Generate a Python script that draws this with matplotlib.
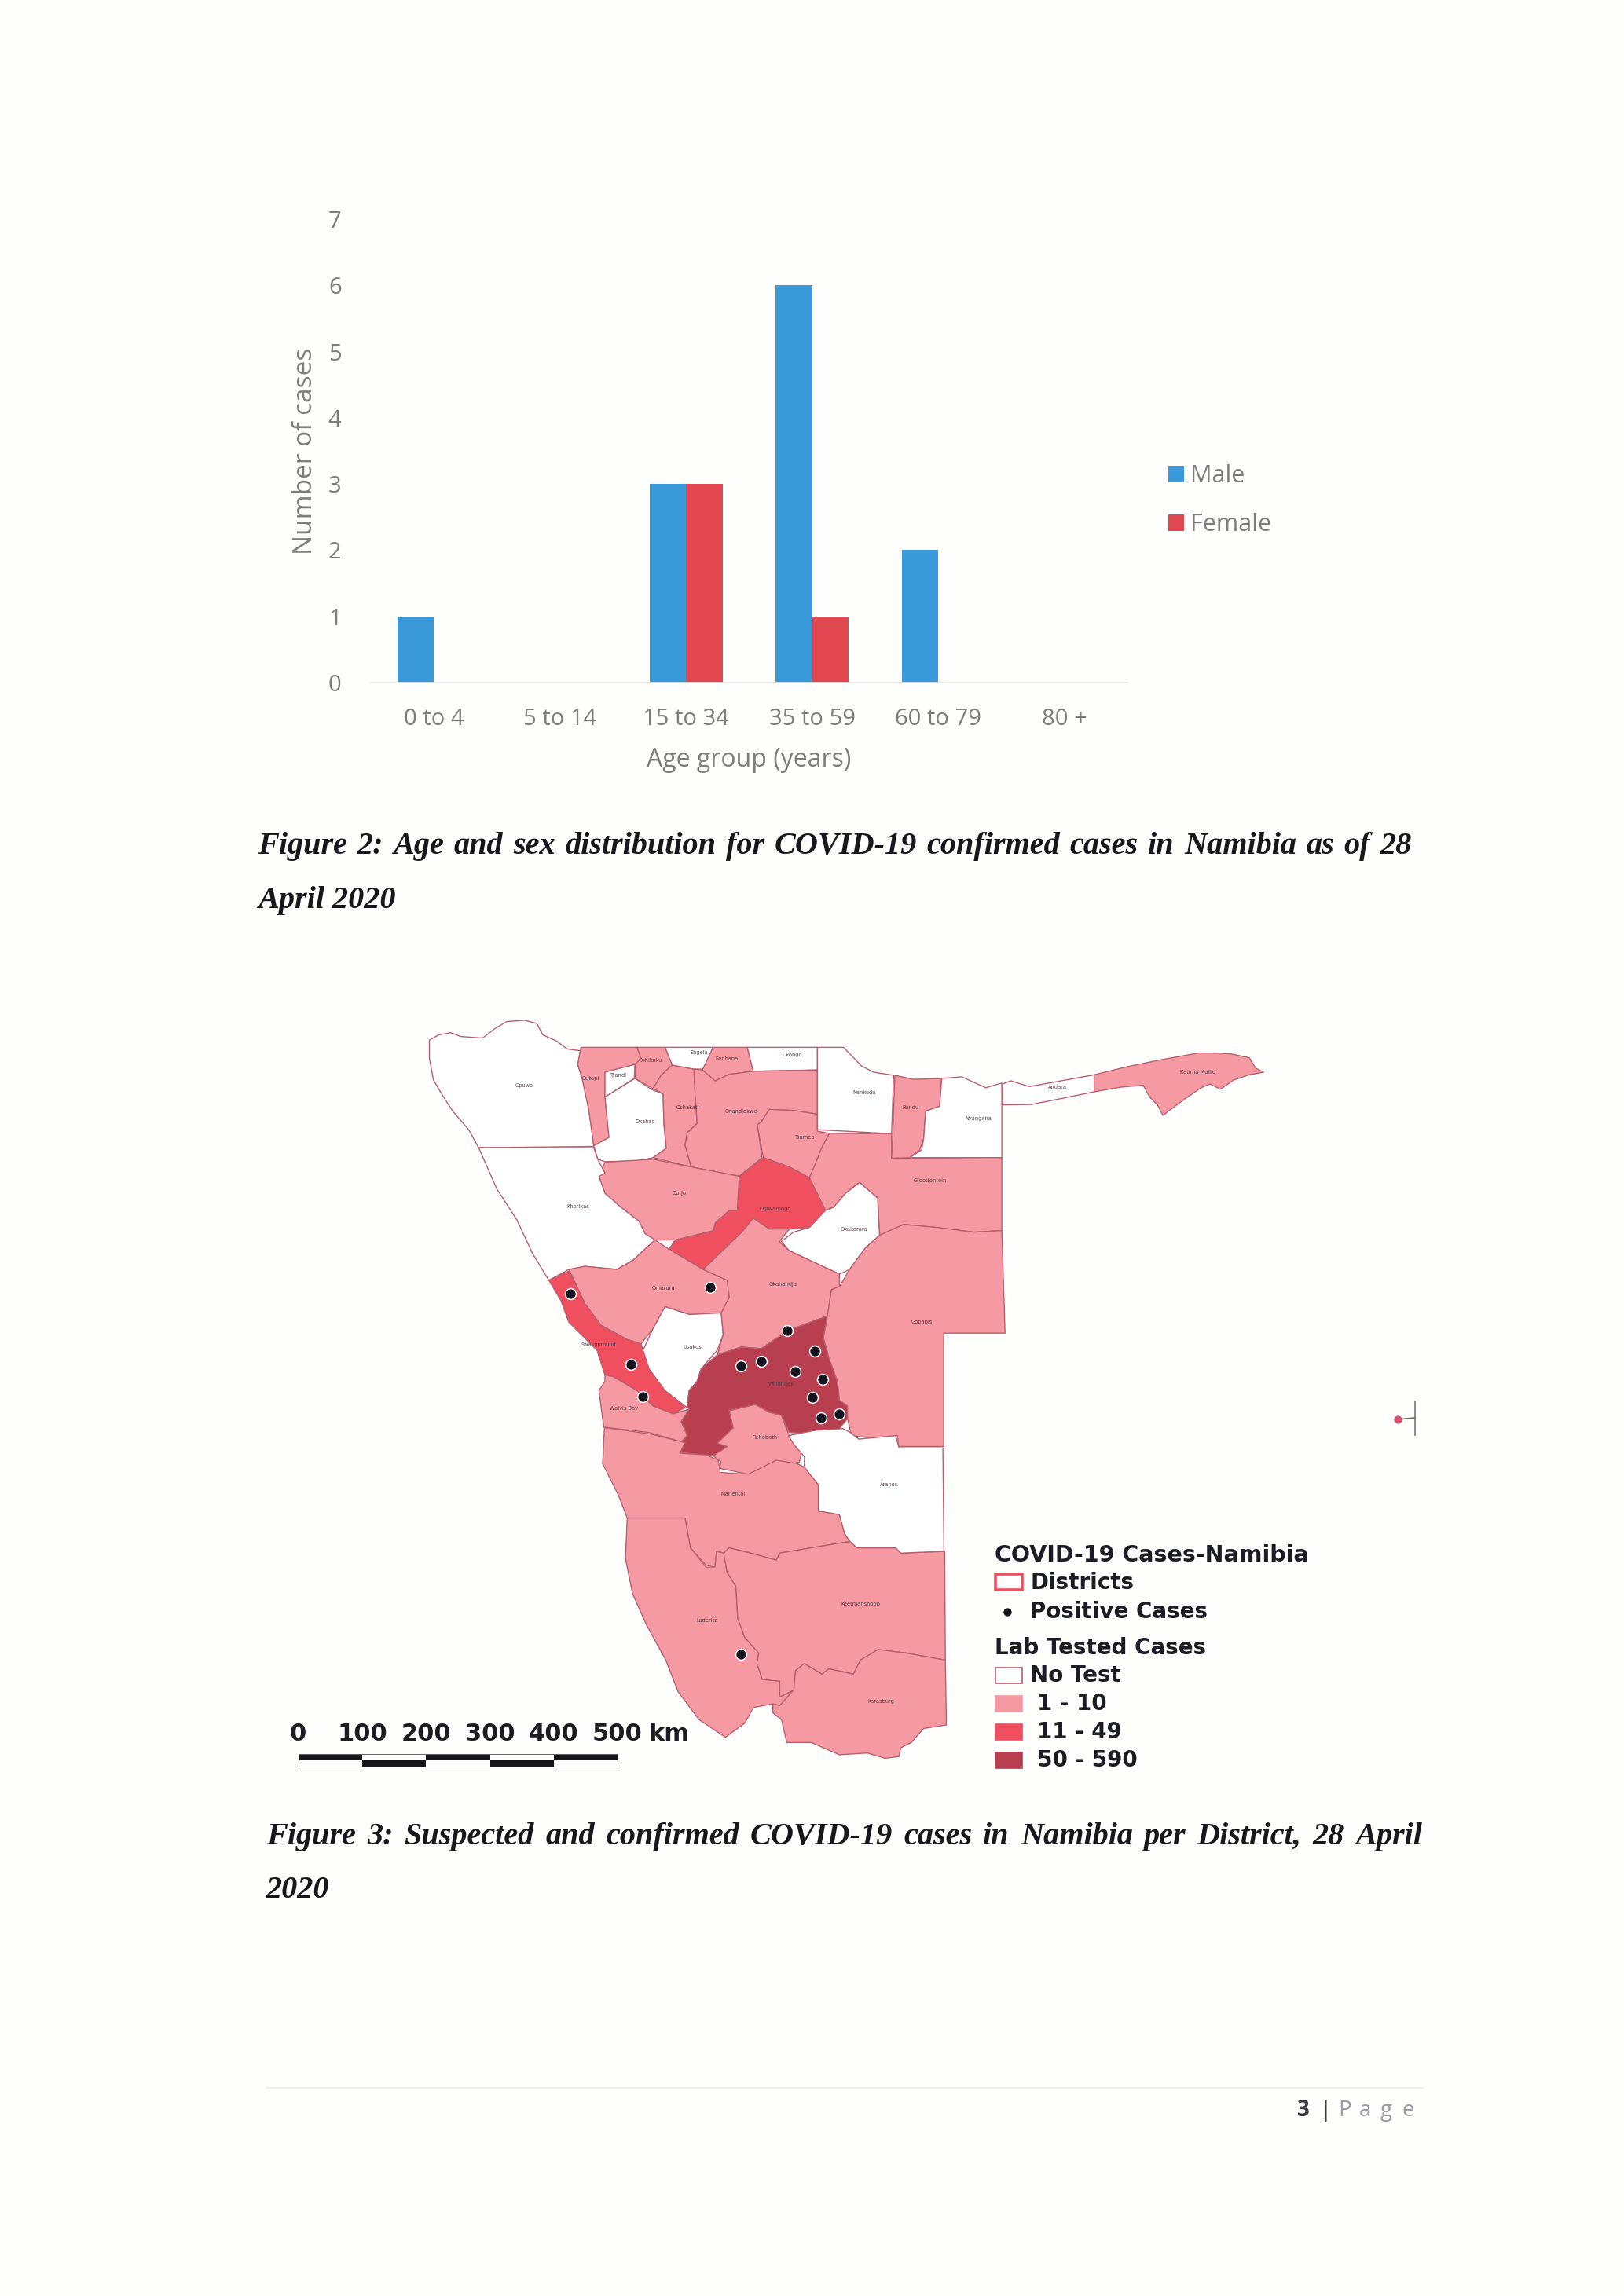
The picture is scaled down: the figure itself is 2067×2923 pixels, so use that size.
import matplotlib
matplotlib.use("Agg")
import matplotlib.pyplot as plt
from matplotlib.patches import Polygon, Rectangle

# ------------------------------------------------------------------ chart data
age_groups = ["0 to 4", "5 to 14", "15 to 34", "35 to 59", "60 to 79", "80 +"]
male_cases = [1, 0, 3, 6, 2, 0]
female_cases = [0, 0, 3, 1, 0, 0]

# ------------------------------------------------------------------ map data
NO_TEST, LOW, MID, HIGH = "none", "low", "mid", "high"

north = {
 "Opuwo": (NO_TEST, [(52,112),(75,95),(105,88),(130,100),(160,103),(185,105),(215,75),(245,52),(290,48),(320,58),(335,95),(370,115),(395,140),(430,146),(422,190),(432,230),(445,290),(450,340),(460,420),(462,454),(175,458),(150,400),(110,340),(85,290),(62,240),(52,170)]),
 "Outapi": (LOW, [(430,135),(570,135),(580,170),(565,190),(490,215),(490,295),(500,425),(462,452),(450,340),(432,230),(422,190)]),
 "Tsandi": (NO_TEST, [(490,215),(565,190),(563,235),(490,295)]),
 "Okahao": (NO_TEST, [(490,295),(565,235),(605,270),(635,285),(637,380),(643,460),(610,490),(575,500),(490,503),(472,495),(462,452),(500,425)]),
 "Oshikuku": (LOW, [(570,135),(640,135),(658,192),(630,225),(610,268),(565,235),(565,190),(580,170)]),
 "Oshakati": (LOW, [(610,268),(630,225),(658,192),(712,205),(715,290),(720,380),(695,410),(690,450),(705,520),(610,490),(643,460),(637,380),(635,285)]),
 "Engela": (NO_TEST, [(640,135),(760,135),(735,205),(712,205),(658,192)]),
 "Eenhana": (LOW, [(760,135),(845,135),(860,212),(800,222),(765,243),(733,208)]),
 "Okongo": (NO_TEST, [(845,135),(1020,135),(1020,208),(860,212)]),
 "Onandjokwe": (LOW, [(712,205),(733,208),(765,243),(800,222),(860,212),(1020,208),(1020,350),(960,338),(900,335),(880,375),(870,385),(882,490),(825,550),(705,520),(690,450),(695,410),(720,380),(715,290)]),
 "Tsumeb": (LOW, [(900,335),(960,338),(1020,350),(1020,405),(1050,412),(1030,460),(1015,510),(1000,555),(950,520),(885,490),(870,385),(880,375)]),
 "Nankudu": (NO_TEST, [(1020,135),(1085,135),(1130,195),(1160,215),(1210,225),(1205,413),(1020,400)]),
 "Rundu": (LOW, [(1213,225),(1260,238),(1330,235),(1325,325),(1290,340),(1285,430),(1275,465),(1250,490),(1205,492),(1208,413)]),
 "Nyangana": (NO_TEST, [(1330,235),(1380,230),(1440,265),(1480,250),(1480,490),(1250,490),(1280,465),(1285,430),(1290,340),(1325,325)]),
 "Grootfontein": (LOW, [(1050,412),(1205,413),(1205,492),(1480,490),(1480,725),(1410,730),(1320,715),(1235,705),(1175,740),(1170,620),(1125,570),(1090,605),(1060,650),(1040,660),(1000,555),(1015,510),(1030,460)]),
 "Otjiwarongo": (MID, [(885,490),(950,520),(1000,555),(1040,660),(1000,715),(950,720),(900,720),(860,685),(835,725),(735,850),(650,785),(665,755),(760,725),(765,700),(800,660),(820,660),(825,550)]),
 "Outjo": (LOW, [(490,505),(610,495),(705,520),(825,550),(820,660),(800,660),(765,700),(760,725),(665,755),(610,755),(590,735),(575,695),(530,650),(490,605),(475,550)]),
 "Khorixas": (NO_TEST, [(175,458),(462,458),(472,495),(490,540),(475,550),(490,605),(530,650),(575,695),(590,735),(615,755),(560,820),(520,850),(440,840),(400,850),(350,885),(310,800),(270,690),(220,590)]),
 "Omaruru": (LOW, [(400,850),(440,840),(520,850),(560,820),(615,755),(650,785),(735,850),(795,885),(800,940),(780,990),(700,995),(640,970),(610,1040),(580,1090),(545,1075),(480,1030),(440,960)]),
 "Swakopmund": (MID, [(350,885),(400,855),(440,960),(480,1030),(545,1075),(580,1090),(600,1170),(640,1240),(690,1295),(660,1315),(610,1290),(570,1240),(510,1195),(490,1190),(470,1110),(400,1020),(380,950)]),
 "Usakos": (NO_TEST, [(640,970),(700,995),(780,990),(785,1060),(770,1110),(730,1170),(720,1210),(700,1240),(695,1295),(640,1240),(600,1170),(585,1110),(610,1040)]),
 "Okakarara": (NO_TEST, [(930,760),(960,730),(1000,715),(1040,660),(1060,650),(1090,605),(1125,570),(1170,620),(1175,740),(1140,780),(1100,850),(1075,865),(1000,820),(950,790)]),
 "Okahandja": (LOW, [(735,850),(835,725),(860,685),(900,720),(950,720),(925,760),(950,790),(1000,820),(1075,865),(1075,905),(1055,915),(1045,1000),(960,1040),(920,1070),(880,1105),(830,1100),(770,1125),(785,1060),(780,990),(800,940),(795,885)]),
 "Windhoek": (HIGH, [(1045,1000),(1035,1070),(1050,1140),(1070,1210),(1075,1270),(1095,1290),(1095,1330),(1070,1370),(1020,1380),(950,1375),(930,1320),(900,1310),(865,1285),(800,1305),(810,1360),(770,1410),(795,1420),(760,1450),(680,1440),(680,1410),(695,1385),(680,1340),(700,1300),(695,1290),(700,1240),(720,1210),(730,1170),(770,1125),(830,1100),(880,1105),(920,1070),(960,1040)]),
 "Rehoboth": (LOW, [(800,1305),(865,1285),(900,1310),(930,1320),(950,1385),(980,1440),(975,1470),(900,1490),(850,1510),(775,1490),(780,1470),(760,1450),(795,1420),(770,1410),(810,1360)]),
 "Gobabis": (LOW, [(1075,905),(1100,850),(1140,780),(1175,740),(1235,705),(1320,715),(1410,730),(1480,725),(1488,1055),(1335,1055),(1335,1420),(1222,1420),(1220,1385),(1170,1395),(1105,1385),(1095,1330),(1095,1290),(1075,1270),(1070,1210),(1050,1140),(1035,1070),(1045,1000),(1055,915)]),
 "Walvis Bay": (LOW, [(490,1190),(510,1195),(570,1240),(610,1290),(660,1315),(700,1300),(680,1340),(695,1385),(680,1405),(600,1375),(487,1358),(475,1240),(490,1210)]),
}
south = {
 "Mariental": (LOW, [(200,487),(330,505),(430,530),(415,560),(490,565),(525,580),(530,615),(610,620),(690,580),(750,590),(770,600),(810,650),(810,725),(870,735),(885,790),(900,812),(820,825),(700,845),(690,865),(635,850),(600,840),(555,830),(540,845),(520,840),(515,885),(490,880),(445,830),(430,745),(265,745),(240,680),(195,590)]),
 "Luderitz": (LOW, [(265,745),(430,745),(445,830),(490,885),(515,885),(520,840),(540,845),(550,900),(575,940),(580,1030),(600,1085),(640,1130),(635,1160),(650,1205),(700,1210),(700,1255),(740,1235),(700,1280),(680,1275),(625,1285),(600,1330),(545,1370),(470,1320),(410,1240),(375,1150),(320,1050),(280,960),(260,860)]),
 "Keetmanshoop": (LOW, [(540,845),(555,830),(635,850),(690,865),(700,845),(820,825),(900,812),(920,830),(1030,830),(1045,845),(1170,840),(1172,1150),(1060,1130),(980,1120),(930,1150),(910,1190),(840,1175),(820,1190),(770,1160),(745,1180),(740,1235),(700,1255),(700,1210),(650,1205),(635,1160),(640,1130),(600,1085),(580,1030),(575,940),(550,900)]),
 "Karasburg": (LOW, [(740,1235),(745,1180),(770,1160),(820,1190),(840,1175),(910,1190),(930,1150),(980,1120),(1060,1130),(1172,1150),(1175,1335),(1110,1345),(1075,1385),(1045,1400),(1040,1425),(1000,1430),(950,1415),(870,1420),(790,1385),(720,1385),(705,1320),(680,1300),(680,1275),(700,1280)]),
 "Aranos": (NO_TEST, [(725,510),(800,495),(880,490),(900,500),(925,520),(1030,510),(1040,545),(1165,545),(1168,840),(1045,845),(1030,830),(920,830),(900,812),(885,790),(870,735),(810,725),(810,650),(770,600),(770,570),(740,535)]),
}
east = {
 "Andara": (NO_TEST, [(228,240),(260,228),(330,250),(430,232),(578,205),(578,270),(430,300),(340,318),(228,320)]),
 "Katima Mulilo": (LOW, [(578,205),(700,175),(820,150),(975,122),(1040,122),(1100,125),(1170,140),(1195,180),(1225,195),(1170,205),(1110,225),(1060,260),(1020,240),(985,255),(920,300),(840,360),(820,320),(790,290),(765,245),(680,252),(578,270)]),
}
north_labels = {"Opuwo":(288,257),"Outapi":(455,235),"Tsandi":(525,225),"Oshikuku":(603,177),"Okahao":(590,375),
 "Engela":(725,152),"Eenhana":(793,172),"Okongo":(957,160),"Nankudu":(1137,280),"Rundu":(1252,330),"Nyangana":(1422,365),
 "Oshakati":(697,330),"Onandjokwe":(830,342),"Tsumeb":(990,425),"Grootfontein":(1300,565),"Outjo":(675,605),
 "Khorixas":(422,647),"Otjiwarongo":(915,655),"Okakarara":(1112,720),"Omaruru":(635,910),"Okahandja":(935,897),
 "Usakos":(708,1100),"Swakopmund":(475,1092),"Walvis Bay":(538,1298),"Windhoek":(930,1218),"Rehoboth":(888,1390),"Gobabis":(1280,1018)}
south_labels = {"Aranos":(1012,650),"Mariental":(567,677),"Luderitz":(493,1038),"Keetmanshoop":(930,990),"Karasburg":(988,1268)}
east_labels = {"Andara":(437,252),"Katima Mulilo":(972,196)}
north_cases = [(404,928),(753,907),(945,1046),(1013,1113),(880,1145),(829,1162),(965,1178),(1032,1205),(1007,1263),(1029,1328),(1075,1316),(555,1156),(584,1260)]
south_cases = [(588,1133)]

scale_labels = ["0", "100", "200", "300", "400", "500"]
legend_classes = [("No Test", NO_TEST), ("1 - 10", LOW), ("11 - 49", MID), ("50 - 590", HIGH)]

caption2 = ["Figure 2: Age and sex distribution for COVID-19 confirmed cases in Namibia as of 28", "April 2020"]
caption3 = ["Figure 3: Suspected and confirmed COVID-19 cases in Namibia per District, 28 April", "2020"]

# ------------------------------------------------------------------ crop scales
def from_north(p): return (520 + p[0] / 1.96, 1280 + p[1] / 2.529)
def from_south(p): return (680 + p[0] / 2.24, 1600 + p[1] / 2.24)
def from_east(p):  return (1200 + p[0] / 3.0, 1300 + p[1] / 3.0)

W, H = 2067, 2923
fig = plt.figure(figsize=(W / 100, H / 100), dpi=100, facecolor="#fefefd")
page = fig.add_axes([0, 0, 1, 1])
page.set_xlim(0, W); page.set_ylim(H, 0); page.axis("off")

# ------------------------------------------------------------------ bar chart
BLUE, RED, GREY = "#3a9ad9", "#e0474f", "#7d7d7d"
FONT = "Open Sans"
ax = fig.add_axes([472 / W, 1 - 869 / H, (1435 - 472) / W, (869 - 279) / H])
ax.patch.set_alpha(0)
xs = list(range(len(age_groups)))
bw = 0.29
ax.bar([x - bw / 2 for x in xs], male_cases, bw, color=BLUE, label="Male")
ax.bar([x + bw / 2 for x in xs], female_cases, bw, color=RED, label="Female")
ax.set_xlim(-0.5, 5.5); ax.set_ylim(0, 7)
ax.set_xticks(xs, age_groups); ax.set_yticks(range(8))
ax.tick_params(length=0, labelsize=21, labelcolor=GREY)
ax.tick_params(axis="x", pad=23)
ax.tick_params(axis="y", pad=27)
for s in ("top", "right", "left"):
    ax.spines[s].set_visible(False)
ax.spines["bottom"].set_color("#e8e8e8"); ax.spines["bottom"].set_linewidth(1.2)
for t in ax.get_xticklabels() + ax.get_yticklabels():
    t.set_family(FONT)
ax.set_xlabel("Age group (years)", fontsize=23, color=GREY, family=FONT, labelpad=15)
ax.set_ylabel("Number of cases", fontsize=24, color=GREY, family=FONT)
ax.yaxis.set_label_coords((405 - 472) / (1435 - 472), 0.50)
leg = ax.legend(loc="center left", bbox_to_anchor=((1459 - 472) / (1435 - 472), (869 - 637) / (869 - 279)),
                frameon=False, prop={"family": FONT, "size": 22}, labelcolor=GREY,
                handlelength=0.68, handleheight=0.68, handletextpad=0.25, labelspacing=1.05)

# ------------------------------------------------------------------ map
FILL = {NO_TEST: "#ffffff", LOW: "#f59aa3", MID: "#ef4f5f", HIGH: "#b83f50"}
EDGE = "#b8606e"
for table, conv in ((north, from_north), (south, from_south), (east, from_east)):
    for name, (cls, pts) in table.items():
        page.add_patch(Polygon([conv(p) for p in pts], closed=True, facecolor=FILL[cls],
                               edgecolor=EDGE, linewidth=1.0, joinstyle="round", zorder=2))
for labels, conv in ((north_labels, from_north), (south_labels, from_south), (east_labels, from_east)):
    for name, p in labels.items():
        x, y = conv(p)
        page.text(x, y, name, fontsize=4.8, color="#5a3f48", ha="center", va="center",
                  family="DejaVu Sans", zorder=3)
dots = [from_north(p) for p in north_cases] + [from_south(p) for p in south_cases]
page.scatter([d[0] for d in dots], [d[1] for d in dots], s=100, c="#14141e",
             edgecolors="#f4eeee", linewidths=1.2, zorder=4)

# small stray mark at right of the map
page.plot([1779, 1801], [1807, 1805], color="#666666", lw=1.2, zorder=2)
page.plot([1801, 1801], [1784, 1827], color="#777777", lw=1.2, zorder=2)
page.scatter([1779], [1807], s=55, c="#d8506a", linewidths=0, zorder=3)

# scale bar
sx0, seg, sy0, sy1 = 380, 81.2, 2233, 2249
for i, lab in enumerate(scale_labels):
    page.text(sx0 + i * seg if i else sx0 - 1, 2207, lab, fontsize=22, fontweight="bold", color="#1c1c22",
              ha="center", va="center", family="DejaVu Sans")
page.text(851, 2207, "km", fontsize=22, fontweight="bold", color="#1c1c22", ha="center", va="center",
          family="DejaVu Sans")
for i in range(5):
    x = sx0 + i * seg
    ymid = (sy0 + sy1) / 2
    upper, lower = ("#15151a", "#ffffff") if i % 2 == 0 else ("#ffffff", "#15151a")
    page.add_patch(Rectangle((x, sy0), seg, ymid - sy0, facecolor=upper, edgecolor="none", zorder=3))
    page.add_patch(Rectangle((x, ymid), seg, sy1 - ymid, facecolor=lower, edgecolor="none", zorder=3))
page.add_patch(Rectangle((sx0, sy0), 5 * seg, sy1 - sy0, facecolor="none", edgecolor="#666666", lw=0.7, zorder=4))

# map legend
LEG = dict(fontsize=20, fontweight="bold", color="#1c1c24", va="center", family="DejaVu Sans")
page.text(1266, 1980, "COVID-19 Cases-Namibia", **{**LEG, "fontsize": 20.5})
page.add_patch(Rectangle((1267, 2004), 34, 20, facecolor="white", edgecolor="#e8505f", lw=2.6))
page.text(1311, 2015, "Districts", **LEG)
page.scatter([1282], [2052], s=55, c="#14141e", linewidths=0)
page.text(1311, 2052, "Positive Cases", **LEG)
page.text(1266, 2098, "Lab Tested Cases", **LEG)
for (lab, cls), yc, tx in zip(legend_classes, [2133, 2169, 2205, 2241], [1311, 1320, 1320, 1320]):
    page.add_patch(Rectangle((1267, yc - 10), 34, 20, facecolor=FILL[cls],
                             edgecolor=EDGE if cls == NO_TEST else FILL[cls], lw=1.2))
    page.text(tx, yc, lab, **LEG)

# ------------------------------------------------------------------ captions
CAP = dict(fontsize=29, fontweight="bold", fontstyle="italic", color="#17171c",
           family="Liberation Serif", va="baseline", ha="left")
renderer = fig.canvas.get_renderer()
def justified(line, x0, x1, y):
    words = line.split(" ")
    inv = page.transData.inverted()
    items = [page.text(0, y, w, **CAP) for w in words]
    widths = []
    for t in items:
        bb = t.get_window_extent(renderer)
        widths.append(inv.transform((bb.x1, 0))[0] - inv.transform((bb.x0, 0))[0])
    gap = (x1 - x0 - sum(widths)) / (len(words) - 1)
    x = x0
    for t, w in zip(items, widths):
        t.set_x(x)
        x += w + gap
justified(caption2[0], 328, 1797, 1087)
page.text(328, 1156, caption2[1], **CAP)
justified(caption3[0], 339, 1810, 2348)
page.text(339, 2416, caption3[1], **CAP)

# ------------------------------------------------------------------ footer
page.plot([339, 1812], [2658, 2658], color="#f0f0ee", lw=1.5)
page.text(1651, 2687, "3", fontsize=20, fontweight="bold", color="#3c3c40", va="center", family=FONT)
page.text(1679, 2687, "|", fontsize=20, color="#3c3c40", va="center", family=FONT)
for ch, x in zip("Page", [1703, 1730, 1757, 1784]):
    page.text(x, 2687, ch, fontsize=20, color="#9a9aa2", va="center", family=FONT)

fig.savefig("out.png", dpi=100, facecolor=fig.get_facecolor())
